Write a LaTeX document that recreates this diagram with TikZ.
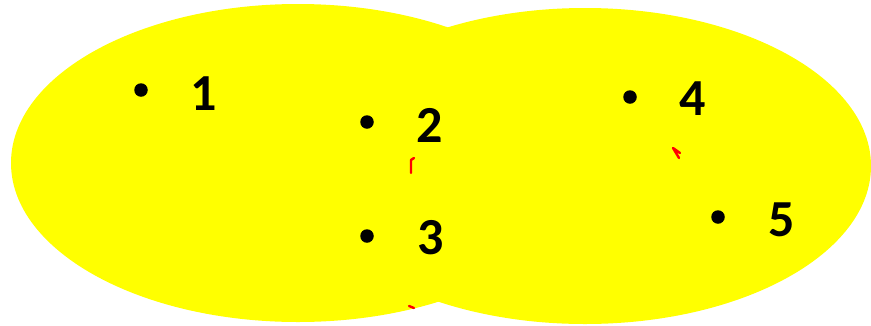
\documentclass[tikz,border=0pt]{standalone}
\usepackage{fontspec}
\setmainfont{Carlito}
\definecolor{vy}{RGB}{255,255,0}
\begin{document}
\begin{tikzpicture}[x=1pt,y=-1pt,
  blob/.style={fill=vy,draw=none},
  pt/.style={circle,fill=black,inner sep=0pt,minimum size=13.5pt},
  lbl/.style={font=\fontsize{52}{52}\selectfont\bfseries,inner sep=0pt},
  redtick/.style={draw=red,line width=2.4pt,line cap=round,line join=round}]
\useasboundingbox (0,0) rectangle (871,325);
\fill[blob] (298,163) ellipse [x radius=287, y radius=159];
\fill[blob] (585,166) ellipse [x radius=286, y radius=158];
\node[pt] (p1) at (141,90) {};
\node[pt] (p2) at (367,122) {};
\node[pt] (p3) at (367,236) {};
\node[pt] (p4) at (630,97) {};
\node[pt] (p5) at (718,217) {};
\node[lbl] (l1) at (204,94) {1};
\node[lbl] (l2) at (430,125) {2};
\node[lbl] (l3) at (431,238) {3};
\node[lbl] (l4) at (693,99) {4};
\node[lbl] (l5) at (782,220) {5};
\coordinate (r1a) at (414,158);
\coordinate (r1b) at (411,160);
\coordinate (r1c) at (411,173);
\draw[redtick] (r1a) -- (r1b) -- (r1c);
\coordinate (r2a) at (679,158);
\coordinate (r2b) at (673,148);
\coordinate (r2c) at (680,153);
\draw[redtick] (r2a) -- (r2b) -- (r2c);
\coordinate (r3a) at (409,306);
\coordinate (r3b) at (414,308);
\draw[redtick] (r3a) -- (r3b);
\end{tikzpicture}
\end{document}
